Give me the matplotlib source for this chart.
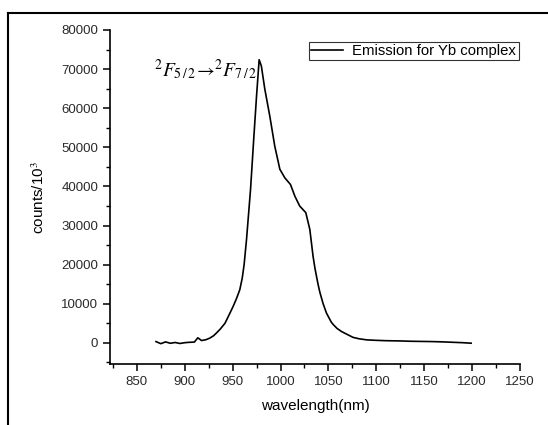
import matplotlib
matplotlib.use('Agg')
import matplotlib.pyplot as plt
from matplotlib.lines import Line2D
from matplotlib.ticker import MultipleLocator

plt.rcParams['font.family'] = ['Liberation Sans', 'DejaVu Sans']
plt.rcParams['mathtext.fontset'] = 'stix'

# emission spectrum
wavelength = [870, 875, 880, 885, 890, 895, 900, 905, 910, 913.7, 917.5, 922, 926,
              930, 933, 937, 942, 946, 950.5, 954, 957.5, 960, 962, 964.5, 968.7,
              972, 975, 977.7, 980, 983.6, 988.8, 994, 999.3, 1004.5, 1010.4,
              1015, 1020, 1026.4, 1030.6, 1034, 1036, 1039, 1041, 1044.5, 1048,
              1053, 1055, 1059, 1063.7, 1070.5, 1075.8, 1082, 1090, 1100, 1110,
              1124.5, 1135, 1145, 1159, 1170, 1180, 1190, 1199]
counts = [330, -200, 250, -100, 100, -150, 50, 150, 200, 1300, 600, 800, 1200,
          1800, 2500, 3500, 5000, 7000, 9300, 11300, 13600, 16500, 20000, 26400,
          39200, 52000, 63200, 72400, 70800, 64900, 58000, 50300, 44400, 42200,
          40500, 37500, 35000, 33300, 29000, 22100, 19000, 15200, 13000, 10000,
          7600, 5300, 4700, 3700, 2900, 2050, 1400, 1050, 770, 650, 560,
          500, 420, 380, 330, 250, 150, 50, -80]

x_ticks = [850, 900, 950, 1000, 1050, 1100, 1150, 1200, 1250]
y_ticks = [0, 10000, 20000, 30000, 40000, 50000, 60000, 70000, 80000]

fig = plt.figure(figsize=(5.48, 4.25), dpi=100)
ax = fig.add_axes([110 / 548, 1 - 364 / 425, 410 / 548, 334 / 425])

ax.plot(wavelength, counts, color='black', linewidth=1.2, label='Emission for Yb complex')

ax.set_xlim(822, 1250)
ax.set_ylim(-5400, 80000)
ax.set_xticks(x_ticks)
ax.set_yticks(y_ticks)
ax.xaxis.set_minor_locator(MultipleLocator(25))
ax.yaxis.set_minor_locator(MultipleLocator(5000))
ax.spines['top'].set_visible(False)
ax.spines['right'].set_visible(False)
ax.spines['left'].set_linewidth(1.2)
ax.spines['bottom'].set_linewidth(1.2)
ax.tick_params(which='major', direction='out', length=5, width=1.1, labelsize=9.5,
               labelcolor='#2a2a2a')
ax.tick_params(which='minor', direction='out', length=3, width=1.0)

ax.set_xlabel('wavelength(nm)', fontsize=11, labelpad=8)
ax.set_ylabel('counts/10$^3$', fontsize=11, labelpad=10)

ax.text(868, 70000, r'$^{2}F_{5\,/\,2}\!\rightarrow\!^{2}F_{7\,/\,2}$', fontsize=14,
        ha='left', va='center')

leg = ax.legend(loc='upper right', bbox_to_anchor=(1.0, 0.97), fontsize=10.7,
                frameon=True, fancybox=False, edgecolor='black', handlelength=2.2,
                handletextpad=0.6, borderpad=0.15, borderaxespad=0.1)
leg.get_frame().set_linewidth(0.8)

# outer frame of the cropped picture
fig.add_artist(Line2D([8 / 548, 8 / 548], [0, 1 - 13 / 425], color='black',
                      linewidth=1.5, transform=fig.transFigure))
fig.add_artist(Line2D([8 / 548, 1], [1 - 13 / 425, 1 - 13 / 425], color='black',
                      linewidth=1.5, transform=fig.transFigure))

fig.savefig('out.png', dpi=100)
